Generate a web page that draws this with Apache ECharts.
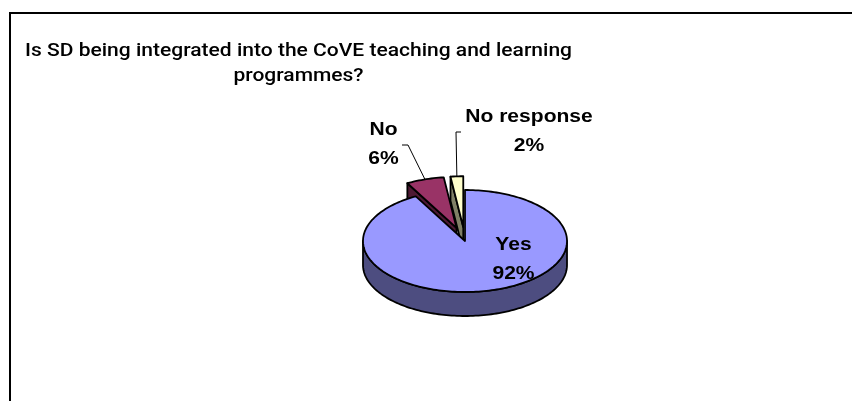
<!DOCTYPE html>
<html>
<head>
<meta charset="utf-8">
<script src="https://cdn.jsdelivr.net/npm/echarts@6/dist/echarts.min.js"></script>
<style>
  html, body { margin: 0; padding: 0; background: #ffffff; }
  #chart { width: 852px; height: 401px; }
</style>
</head>
<body>
<div id="chart"></div>
<script>
// Survey answers
const categories = ['Yes', 'No', 'No response'];
const shares = [92, 6, 2];
const exploded = [false, true, true];

const titleLines = ['Is SD being integrated into the CoVE teaching and learning', 'programmes?'];

// Slice colours: top face and the shaded walls
const topColors = ['#9999FF', '#993366', '#FFFFCC'];
const sideColors = ['#4D4D80', '#4D1933', '#808066'];

// Tilted pie geometry (pixels)
const PIE = { cx: 465, cy: 241, rx: 102, ry: 51, depth: 24, explode: 0.27 };

// Label blocks, relative to the pie centre (dx = block centre, dy = block top)
const LABEL_POS = [
  { dx: 48.5, dy: -9.8 },
  { dx: -81.5, dy: -125 },
  { dx: 64, dy: -138 }
];
// Leader lines: elbow and tick end, relative to the pie centre
const LEADERS = [
  null,
  { corner: [-57, -96], end: [-63, -96] },
  { corner: [-9, -109], end: [-4, -109] }
];

const STRETCH = 1.17;
const LABEL_FONT = 'bold 18px "Liberation Sans", Arial, sans-serif';
const TITLE_FONT = '500 18.5px Roboto, "Liberation Sans", Arial, sans-serif';
const TITLE_WIDTH = 547;   // first title line spans this many pixels

const TOTAL = shares.reduce((a, b) => a + b, 0);

function pt(c, a) {
  return [c[0] + PIE.rx * Math.sin(a), c[1] - PIE.ry * Math.cos(a)];
}
function arcPoints(c, a0, a1, dy) {
  const n = Math.max(2, Math.ceil((a1 - a0) / (Math.PI / 120)));
  const out = [];
  for (let i = 0; i <= n; i++) {
    const p = pt(c, a0 + (a1 - a0) * i / n);
    out.push([p[0], p[1] + dy]);
  }
  return out;
}
function sliceGeom(idx) {
  let before = 0;
  for (let i = 0; i < idx; i++) before += shares[i];
  const a0 = before / TOTAL * 2 * Math.PI;
  const a1 = (before + shares[idx]) / TOTAL * 2 * Math.PI;
  const mid = (a0 + a1) / 2;
  const k = exploded[idx] ? PIE.explode : 0;
  const c = [PIE.cx + PIE.rx * k * Math.sin(mid), PIE.cy - PIE.ry * k * Math.cos(mid)];
  return { a0, a1, mid, c };
}

function renderItem(params, api) {
  const idx = params.dataIndex;
  const g = sliceGeom(idx);
  const D = PIE.depth;
  const base = exploded[idx] ? 0 : 20;
  const edge = { stroke: '#000', lineWidth: 1.8, lineJoin: 'round' };
  const children = [];

  // radial walls that face the viewer
  const walls = [];
  if (Math.sin(g.a0) < -1e-6) walls.push(g.a0);
  if (Math.sin(g.a1) > 1e-6) walls.push(g.a1);
  walls.forEach(a => {
    const p = pt(g.c, a);
    children.push({
      type: 'polygon', z2: base + 1,
      shape: { points: [g.c, p, [p[0], p[1] + D], [g.c[0], g.c[1] + D]] },
      style: Object.assign({ fill: sideColors[idx] }, edge)
    });
  });

  // curved outer wall on the front half
  const s0 = Math.max(g.a0, Math.PI / 2), s1 = Math.min(g.a1, 3 * Math.PI / 2);
  if (s1 > s0) {
    const upper = arcPoints(g.c, s0, s1, 0);
    const lower = arcPoints(g.c, s0, s1, D).reverse();
    children.push({
      type: 'polygon', z2: base + 2,
      shape: { points: upper.concat(lower) },
      style: Object.assign({ fill: sideColors[idx] }, edge)
    });
  }

  // top face
  children.push({
    type: 'polygon', z2: base + 3,
    shape: { points: [g.c].concat(arcPoints(g.c, g.a0, g.a1, 0)) },
    style: Object.assign({ fill: topColors[idx] }, edge)
  });

  // leader line
  const ld = LEADERS[idx];
  if (ld) {
    children.push({
      type: 'polyline', z2: 50,
      shape: { points: [pt(g.c, g.mid),
        [PIE.cx + ld.corner[0], PIE.cy + ld.corner[1]],
        [PIE.cx + ld.end[0], PIE.cy + ld.end[1]]] },
      style: { stroke: '#000', lineWidth: 1, fill: null }
    });
  }

  // category label with percentage
  const lp = LABEL_POS[idx];
  const pct = Math.round(shares[idx] / TOTAL * 100) + '%';
  children.push({
    type: 'text', z2: 60,
    x: PIE.cx + lp.dx, y: PIE.cy + lp.dy, scaleX: STRETCH,
    style: {
      text: categories[idx] + '\n' + pct,
      font: LABEL_FONT, fill: '#000',
      align: 'center', verticalAlign: 'top', lineHeight: 28.5
    }
  });

  return { type: 'group', children };
}

// horizontal stretch for the title so its first line fills the set width
const measureCtx = document.createElement('canvas').getContext('2d');
measureCtx.font = TITLE_FONT;
const titleStretch = TITLE_WIDTH / measureCtx.measureText(titleLines[0]).width;

const chart = echarts.init(document.getElementById('chart'), null, { renderer: 'canvas' });
chart.setOption({
  animation: false,
  backgroundColor: '#ffffff',
  graphic: [
    {
      type: 'rect', z: 0,
      shape: { x: 10, y: 13, width: 1000, height: 1000 },
      style: { fill: null, stroke: '#000', lineWidth: 2 }
    },
    {
      type: 'text', z: 10,
      x: 298.5, y: 38.9, scaleX: titleStretch,
      style: {
        text: titleLines.join('\n'), font: TITLE_FONT, fill: '#000',
        align: 'center', verticalAlign: 'top', lineHeight: 25.2
      }
    }
  ],
  series: [{
    type: 'custom',
    coordinateSystem: 'none',
    renderItem: renderItem,
    data: shares.map((v, i) => ({ name: categories[i], value: v }))
  }]
});
</script>
</body>
</html>
